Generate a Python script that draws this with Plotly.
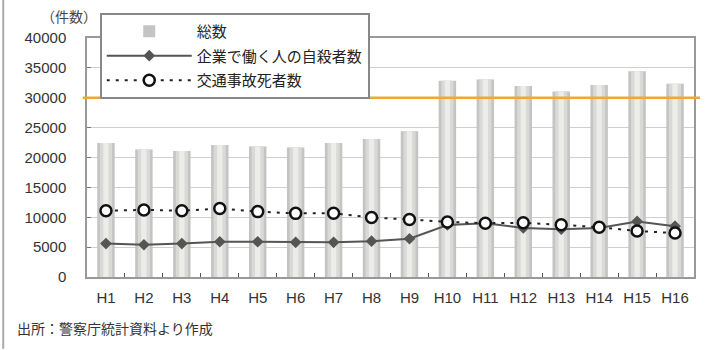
import plotly.graph_objects as go

categories = ["H1", "H2", "H3", "H4", "H5", "H6", "H7", "H8", "H9", "H10",
              "H11", "H12", "H13", "H14", "H15", "H16"]
total_suicides = [22436, 21346, 21084, 22104, 21851, 21679, 22445, 23104, 24391,
                  32863, 33048, 31957, 31042, 32143, 34427, 32325]
worker_suicides = [5600, 5400, 5600, 5900, 5900, 5800, 5800, 6000, 6400,
                   8700, 9000, 8200, 8000, 8200, 9300, 8500]
traffic_deaths = [11086, 11227, 11105, 11451, 10942, 10649, 10679, 9942, 9640,
                  9211, 9006, 9066, 8747, 8326, 7702, 7358]
y_ticks = [0, 5000, 10000, 15000, 20000, 25000, 30000, 35000, 40000]
y_tick_labels = [str(v) for v in y_ticks]
reference_level = 30000

FONT = "Noto Sans CJK JP"

fig = go.Figure()

# cylinder-like bars: overlay of several widths
fig.add_trace(go.Bar(x=categories, y=total_suicides, name="総数", width=0.46,
                     marker=dict(color="#c4c4c4", line=dict(width=0)),
                     legendgroup="a", showlegend=True))
fig.add_trace(go.Bar(x=categories, y=total_suicides, width=0.32,
                     marker=dict(color="#d9d9d6", line=dict(width=0)),
                     showlegend=False, hoverinfo="skip"))
fig.add_trace(go.Bar(x=categories, y=total_suicides, width=0.14,
                     marker=dict(color="#ececea", line=dict(width=0)),
                     showlegend=False, hoverinfo="skip"))

fig.add_trace(go.Scatter(x=categories, y=worker_suicides, name="企業で働く人の自殺者数",
                         mode="lines+markers", legendgroup="b",
                         line=dict(color="#555555", width=2),
                         marker=dict(symbol="diamond", size=9, color="#555555")))
fig.add_trace(go.Scatter(x=categories, y=traffic_deaths, name="交通事故死者数",
                         mode="lines+markers", legendgroup="c",
                         line=dict(color="#222222", width=2, dash="3px,6px"),
                         marker=dict(symbol="circle", size=11, color="white",
                                     line=dict(color="#111111", width=2.5))))

fig.add_shape(type="line", xref="paper", yref="y", x0=-0.007, x1=1.01,
              y0=reference_level, y1=reference_level,
              line=dict(color="#f0a830", width=2.5), layer="above")

# outer frame line on the left
fig.add_shape(type="line", xref="paper", yref="paper", x0=-0.138, x1=-0.138,
              y0=-0.3, y1=1.2, line=dict(color="#aaaaaa", width=2))

fig.add_annotation(text="（件数）", xref="paper", yref="paper", x=-0.03, y=1.09,
                   xanchor="center", yanchor="middle", showarrow=False,
                   font=dict(family=FONT, size=14, color="#444444"))
fig.add_annotation(text="出所：警察庁統計資料より作成", xref="paper", yref="paper",
                   x=-0.118, y=-0.215, xanchor="left", yanchor="middle", showarrow=False,
                   font=dict(family=FONT, size=14, color="#333333"))

fig.update_layout(
    width=718, height=350,
    margin=dict(l=87, r=24, t=38, b=73),
    paper_bgcolor="white", plot_bgcolor="white",
    barmode="overlay",
    font=dict(family=FONT, size=12, color="#333333"),
    legend=dict(x=0.021, y=1.105, xanchor="left", yanchor="top",
                bgcolor="white", bordercolor="#888888", borderwidth=2,
                font=dict(family=FONT, size=15, color="#222222"),
                itemwidth=85, tracegroupgap=2, traceorder="grouped"),
    showlegend=True,
)
fig.update_xaxes(range=[-0.5, 15.5], showline=True, linecolor="#999999", linewidth=1.5,
                 mirror=True, ticks="inside", tickson="boundaries", ticklen=4,
                 tickcolor="#555555", showgrid=False, ticklabelstandoff=6,
                 tickfont=dict(family="Liberation Sans", size=15, color="#333333"))
fig.update_yaxes(range=[0, 40000], tickvals=y_ticks, ticktext=y_tick_labels,
                 showline=True, linecolor="#999999",
                 linewidth=1.5, mirror=True, ticks="inside", ticklen=4,
                 tickcolor="#777777", showgrid=True, gridcolor="#cfcfcf", gridwidth=1,
                 zeroline=False, ticklabelstandoff=16,
                 tickfont=dict(family="Liberation Sans", size=15, color="#333333"))

fig.write_html("out.html")
